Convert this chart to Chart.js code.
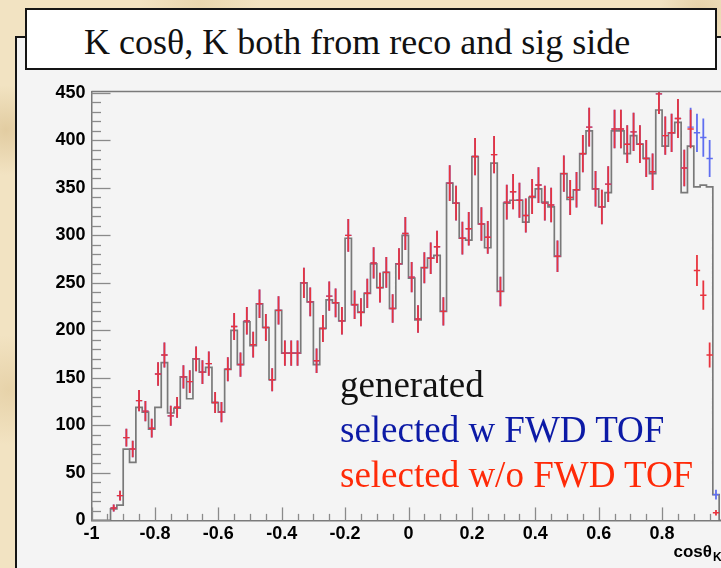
<!DOCTYPE html>
<html><head><meta charset="utf-8">
<script src="https://cdn.jsdelivr.net/npm/chart.js@4.4.1/dist/chart.umd.min.js"></script>
<style>
html,body{margin:0;padding:0;}
body{width:721px;height:568px;overflow:hidden;position:relative;
 background:
  radial-gradient(circle at 6px 130px, rgba(196,162,100,0.35), rgba(196,162,100,0) 45px),
  radial-gradient(circle at 9px 390px, rgba(205,172,112,0.30), rgba(205,172,112,0) 55px),
  radial-gradient(circle at 700px 12px, rgba(200,168,108,0.30), rgba(200,168,108,0) 40px),
  radial-gradient(circle at 200px 4px, rgba(210,180,120,0.25), rgba(210,180,120,0) 60px),
  #f2e3c2;}
#pad{position:absolute;left:15px;top:36px;width:760px;height:600px;background:#f4f4f4;border-left:2.5px solid #151515;border-top:2.5px solid #151515;box-sizing:border-box;}
#titlebox{position:absolute;left:25px;top:8px;width:692px;height:62px;background:#fff;border:2px solid #151515;box-sizing:border-box;}
.t{position:absolute;white-space:nowrap;font-family:"Liberation Serif","DejaVu Serif",serif;}
#title{left:84px;top:24px;font-size:36px;line-height:36px;color:#111;}
.leg{left:340px;font-size:37px;line-height:37px;}
#l1{top:365.5px;color:#111;}
#l2{top:411px;color:#0c1aa6;}
#l3{top:456px;color:#ff2a08;}
.ax{position:absolute;white-space:nowrap;font-family:"Liberation Sans",Arial,sans-serif;font-weight:bold;color:#000;}
#axt{right:9px;top:543px;font-size:17px;line-height:17px;}
#axk{left:713px;top:551px;font-size:12px;line-height:12px;}
canvas{position:absolute;left:0;top:0;}
</style>
</head><body>
<div id="pad"></div>
<div id="titlebox"></div>
<div class="t" id="title">K cosθ, K both from reco and sig side</div>
<canvas id="c" width="760" height="568"></canvas>
<div class="t leg" id="l1">generated</div>
<div class="t leg" id="l2">selected w FWD TOF</div>
<div class="t leg" id="l3">selected w/o FWD TOF</div>
<div class="ax" id="axt">cosθ</div>
<div class="ax" id="axk">K</div>
<script>
// Histogram binning: 100 bins from -1 to 1
const binCount = 100;
const xLow = -1;
const xHigh = 1;

// "generated" histogram contents (bin 0 .. 99)
const generated = [
  0, 0, 0, 12, 16, 75, 61, 119, 114, 96,
  119, 166, 113, 118, 151, 128, 170, 156, 161, 124,
  114, 159, 200, 164, 209, 184, 228, 203, 148, 221,
  176, 176, 176, 250, 230, 164, 202, 232, 229, 210,
  297, 227, 219, 239, 270, 245, 261, 223, 270, 300,
  255, 211, 266, 276, 279, 220, 355, 334, 297, 295,
  383, 312, 287, 376, 241, 334, 337, 337, 314, 340,
  349, 335, 330, 278, 365, 338, 348, 386, 410, 349,
  330, 345, 410, 410, 386, 405, 396, 381, 365, 432,
  394, 408, 419, 345, 394, 351, 353, 351, 27, 0
];

// "selected w FWD TOF" (blue points)
const selectedWithFwdTof = [
  0, 0, 0, 13, 26, 87, 75, 126, 115, 97,
  154, 174, 110, 119, 151, 146, 170, 156, 165, 124,
  114, 159, 204, 164, 210, 185, 228, 203, 148, 221,
  176, 176, 176, 250, 230, 168, 202, 236, 229, 210,
  300, 227, 219, 239, 271, 245, 261, 223, 270, 302,
  256, 212, 266, 276, 288, 220, 355, 334, 297, 307,
  383, 312, 298, 385, 241, 335, 346, 337, 321, 341,
  353, 334, 332, 278, 365, 340, 348, 386, 414, 349,
  330, 354, 412, 412, 396, 409, 396, 381, 367, 449,
  405, 408, 423, 371, 414, 408, 403, 381, 27, 0
];

// "selected w/o FWD TOF" (red points)
const selectedWithoutFwdTof = [
  0, 0, 0, 13, 26, 87, 75, 126, 115, 97,
  154, 174, 110, 119, 151, 146, 170, 156, 165, 124,
  114, 159, 204, 164, 210, 185, 228, 203, 148, 221,
  176, 176, 176, 250, 230, 168, 202, 236, 229, 210,
  300, 227, 219, 239, 271, 245, 261, 223, 270, 302,
  256, 212, 266, 276, 288, 220, 355, 334, 297, 307,
  383, 312, 298, 385, 241, 335, 346, 337, 321, 341,
  353, 334, 332, 278, 365, 340, 348, 386, 414, 349,
  330, 354, 412, 412, 396, 409, 396, 381, 367, 449,
  405, 408, 423, 371, 412, 263, 237, 174, 8, 0
];

const xTickValues = [-1, -0.8, -0.6, -0.4, -0.2, 0, 0.2, 0.4, 0.6, 0.8, 1];
const xTickLabels = ['-1', '-0.8', '-0.6', '-0.4', '-0.2', '0', '0.2', '0.4', '0.6', '0.8', '1'];
const yTickValues = [0, 50, 100, 150, 200, 250, 300, 350, 400, 450];
const yTickLabels = ['0', '50', '100', '150', '200', '250', '300', '350', '400', '450'];

const binWidth = (xHigh - xLow) / binCount;
const histPoints = generated.map((v, i) => ({x: xLow + i * binWidth, y: v}));
histPoints.push({x: xHigh, y: generated[binCount - 1]});
const centerPoints = arr => arr.map((v, i) => ({x: xLow + (i + 0.5) * binWidth, y: v}));

const errorBarPlugin = {
  id: 'errorBars',
  afterDatasetsDraw(chart) {
    const {ctx, chartArea: a, scales: {x, y}} = chart;
    ctx.save();
    ctx.beginPath();
    ctx.rect(a.left, a.top, a.right - a.left, a.bottom - a.top);
    ctx.clip();
    chart.data.datasets.forEach((ds, di) => {
      if (!ds.errorBars) return;
      const meta = chart.getDatasetMeta(di);
      ctx.strokeStyle = ds.errorColor;
      ds.data.forEach((p, i) => {
        if (p.y <= 0) return;
        const el = meta.data[i];
        const err = Math.sqrt(p.y);
        const yTop = y.getPixelForValue(p.y + err);
        const yBot = y.getPixelForValue(Math.max(0, p.y - err));
        const xL = x.getPixelForValue(p.x - binWidth / 2);
        const xR = x.getPixelForValue(p.x + binWidth / 2);
        ctx.lineWidth = 1.8;
        ctx.beginPath(); ctx.moveTo(el.x, yTop); ctx.lineTo(el.x, yBot); ctx.stroke();
        ctx.lineWidth = 1.4;
        ctx.beginPath(); ctx.moveTo(xL, el.y); ctx.lineTo(xR, el.y); ctx.stroke();
      });
    });
    ctx.restore();
  }
};

const frameTicksPlugin = {
  id: 'frameTicks',
  afterDatasetsDraw(chart) {
    const {ctx, chartArea: a, scales: {x, y}} = chart;
    ctx.save();
    ctx.strokeStyle = '#8a8a8a';
    ctx.lineWidth = 1.3;
    const h = a.bottom - a.top, w = a.right - a.left;
    // y ticks (inward)
    for (let k = 0; k <= 45; k++) {
      const v = k * 10;
      const py = Math.round(y.getPixelForValue(v)) + 0.5;
      const len = (k % 5 === 0) ? 0.03 * w : 0.015 * w;
      ctx.beginPath(); ctx.moveTo(a.left, py); ctx.lineTo(a.left + len, py); ctx.stroke();
    }
    // x ticks (inward)
    for (let k = 0; k <= 40; k++) {
      const v = -1 + k * 0.05;
      const px = Math.round(x.getPixelForValue(v)) + 0.5;
      const len = (k % 4 === 0) ? 0.03 * h : 0.015 * h;
      ctx.beginPath(); ctx.moveTo(px, a.bottom); ctx.lineTo(px, a.bottom - len); ctx.stroke();
    }
    // frame top & right
    ctx.strokeStyle = '#7a7a7a';
    ctx.lineWidth = 1.5;
    ctx.beginPath();
    ctx.moveTo(a.left, a.top); ctx.lineTo(a.right, a.top); ctx.lineTo(a.right, a.bottom);
    ctx.stroke();
    ctx.restore();
  }
};

new Chart(document.getElementById('c'), {
  type: 'scatter',
  data: {
    datasets: [
      {
        label: 'generated', data: histPoints, showLine: true, stepped: 'before',
        borderColor: 'rgba(90,90,90,0.8)', borderWidth: 1.7, pointRadius: 0, fill: false
      },
      {
        label: 'selected w FWD TOF', data: centerPoints(selectedWithFwdTof), pointRadius: 0,
        errorBars: true, errorColor: 'rgb(95,110,240)'
      },
      {
        label: 'selected w/o FWD TOF', data: centerPoints(selectedWithoutFwdTof), pointRadius: 0,
        errorBars: true, errorColor: 'rgb(232,52,62)'
      }
    ]
  },
  options: {
    responsive: false, animation: false, devicePixelRatio: 1, events: [],
    layout: {padding: {left: 31.5, top: 91.5, right: 34.5, bottom: 7.7}},
    plugins: {legend: {display: false}, tooltip: {enabled: false}, title: {display: false}},
    scales: {
      x: {
        type: 'linear', min: xLow, max: xHigh,
        afterBuildTicks: s => { s.ticks = xTickValues.map(v => ({value: v})); },
        afterFit: s => { s.height = 40; },
        grid: {display: false, drawTicks: false},
        border: {display: true, color: '#7a7a7a', width: 1.5},
        ticks: {autoSkip: false, maxRotation: 0, padding: 3, color: '#000',
          font: {family: 'Liberation Sans', weight: 'bold', size: 18},
          callback: (v, i) => xTickLabels[i]}
      },
      y: {
        type: 'linear', min: 0, max: 451.5,
        afterBuildTicks: s => { s.ticks = yTickValues.map(v => ({value: v})); },
        afterFit: s => { s.width = 60; },
        grid: {display: false, drawTicks: false},
        border: {display: true, color: '#7a7a7a', width: 1.5},
        ticks: {autoSkip: false, padding: 6, color: '#000',
          font: {family: 'Liberation Sans', weight: 'bold', size: 18},
          callback: (v, i) => yTickLabels[i]}
      }
    }
  },
  plugins: [errorBarPlugin, frameTicksPlugin]
});
</script>
</body></html>
